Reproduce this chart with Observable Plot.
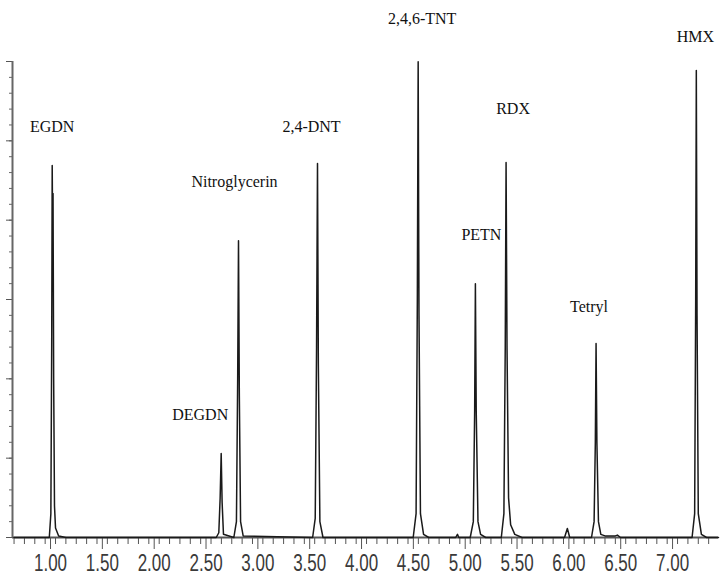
<!DOCTYPE html>
<html>
<head>
<meta charset="utf-8">
<script src="https://cdn.jsdelivr.net/npm/d3@7"></script>
<script src="https://cdn.jsdelivr.net/npm/@observablehq/plot@0.6"></script>
<style>
  html, body { margin: 0; padding: 0; background: #fff; }
  #chart svg { display: block; }
</style>
</head>
<body>
<div id="chart"></div>
<script>
// Retention time (min) of the trace points
const traceTime = [
  0.60, 0.94, 0.955, 0.963, 0.968, 0.972, 0.976, 0.982, 0.99, 1.00, 1.03, 1.10,
  2.55, 2.575, 2.588, 2.598, 2.607, 2.62,
  2.72, 2.745, 2.757, 2.765, 2.773, 2.785, 2.81,
  3.48, 3.505, 3.518, 3.527, 3.535, 3.55, 3.58,
  4.45, 4.478, 4.49, 4.498, 4.506, 4.52, 4.55, 4.60,
  4.86, 4.877, 4.89,
  5.00, 5.03, 5.043, 5.05, 5.058, 5.075, 5.10, 5.15,
  5.30, 5.325, 5.338, 5.346, 5.355, 5.37, 5.39, 5.43, 5.50,
  5.91, 5.937, 5.96,
  6.17, 6.195, 6.207, 6.214, 6.222, 6.237, 6.26, 6.30, 6.40, 6.42, 6.45,
  7.14, 7.165, 7.175, 7.181, 7.188, 7.20, 7.23, 7.28, 7.395
];
// Detector signal at those points
const traceSignal = [
  0, 0, 1.5, 12, 23.44, 19.5, 21.68, 10, 2, 0.6, 0.1, 0,
  0, 0.3, 2.5, 5.29, 2.2, 0.2,
  0, 1, 10, 18.71, 9, 1, 0.1,
  0, 1.2, 12, 23.57, 11, 1, 0,
  0, 1.5, 15, 29.99, 14, 1.5, 0.2, 0,
  0, 0.2, 0,
  0, 1, 8, 16.0, 8, 1, 0.2, 0,
  0, 1.5, 12, 23.63, 12, 2.5, 0.8, 0.2, 0,
  0, 0.57, 0,
  0, 1, 6, 12.22, 6, 1, 0.2, 0.1, 0.1, 0.15, 0,
  0, 1.5, 15, 29.43, 14, 1.5, 0.2, 0, 0
];

// Peaks
const peakNames  = ["EGDN", "DEGDN", "Nitroglycerin", "2,4-DNT", "2,4,6-TNT", "PETN", "RDX", "Tetryl", "HMX"];
const peakTimes  = [0.968, 2.598, 2.765, 3.527, 4.498, 5.05, 5.346, 6.214, 7.181];
const peakHeights = [23.44, 5.29, 18.71, 23.57, 29.99, 16.0, 23.63, 12.22, 29.43];

// Axis ticks
const xMajorTicks = [1.0, 1.5, 2.0, 2.5, 3.0, 3.5, 4.0, 4.5, 5.0, 5.5, 6.0, 6.5, 7.0];
const xTickLabels = ["1.00", "1.50", "2.00", "2.50", "3.00", "3.50", "4.00", "4.50", "5.00", "5.50", "6.00", "6.50", "7.00"];
const yMajorTicks = [0, 5, 10, 15, 20, 25, 30];

// layout: label offsets in pixels from each peak apex
const labelOffsets = [[0, -39], [-21, -39], [-4, -59], [-6, -37], [4, -43], [6, -49], [7, -54], [-7, -37], [-1, -34]];

const trace = traceTime.map((t, i) => ({t, s: traceSignal[i]}));
const peaks = peakNames.map((name, i) => ({name, t: peakTimes[i], h: peakHeights[i]}));
const xMinor = d3.range(6, 74).map(d => d / 10);
const yMinor = d3.range(0, 31);
const xDomain = [0.585, 7.395];

const labelMarks = peaks.map((p, i) => Plot.text([p], {
  x: "t", y: "h", text: "name",
  dx: labelOffsets[i][0], dy: labelOffsets[i][1],
  fontFamily: "Liberation Serif", fontSize: 16, fill: "#111"
}));

const chart = Plot.plot({
  width: 726,
  height: 578,
  marginLeft: 12,
  marginRight: 8,
  marginTop: 61,
  marginBottom: 41,
  style: {background: "#fff", fontFamily: "Liberation Sans"},
  x: {domain: xDomain, label: null},
  y: {domain: [0, 30], label: null},
  marks: [
    Plot.axisX({ticks: xMinor, tickSize: 7, tickFormat: () => "", stroke: "#555", label: null}),
    Plot.axisX({ticks: xMajorTicks, tickSize: 12, tickPadding: 5,
      tickFormat: d => xTickLabels[xMajorTicks.indexOf(d)],
      fontSize: 23, fill: "#3a3a3a", stroke: "#555", dx: -5, label: null}),
    Plot.axisY({ticks: yMinor, tickSize: 3, tickFormat: () => "", stroke: "#666", label: null}),
    Plot.axisY({ticks: yMajorTicks, tickSize: 6, tickFormat: () => "", stroke: "#555", label: null}),
    Plot.ruleY([0], {stroke: "#555", strokeWidth: 2}),
    Plot.ruleX([xDomain[0]], {y1: 0, y2: 30, stroke: "#666", strokeWidth: 2}),
    Plot.line(trace, {x: "t", y: "s", stroke: "#1a1a1a", strokeWidth: 1.5}),
    ...labelMarks
  ]
});
// narrow the tall tick-label glyphs horizontally, as in the reference
chart.querySelectorAll('g[aria-label="x-axis tick label"] text').forEach(t => {
  const tr = t.getAttribute("transform") || "";
  t.setAttribute("transform", tr + " scale(0.74,1)");
});
document.getElementById("chart").append(chart);
</script>
</body>
</html>
